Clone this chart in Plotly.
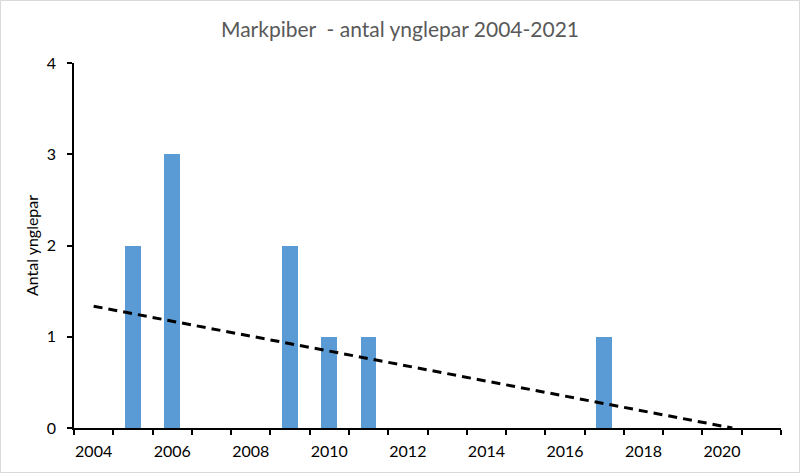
import plotly.graph_objects as go

years = list(range(2004, 2022))
pairs = [0, 2, 3, 0, 0, 2, 1, 1, 0, 0, 0, 0, 0, 1, 0, 0, 0, 0]
tick_years = list(range(2004, 2021, 2))
trend_x = [2004, 2020.26]
trend_y = [1.335, 0]

title_text = "Markpiber\u00a0 - antal ynglepar 2004-2021"
y_title = "Antal ynglepar"

W, H = 800, 473
ml, mr, mt, mb = 74, 19, 63, 45
pw, ph = W - ml - mr, H - mt - mb

fig = go.Figure()
fig.add_trace(go.Bar(x=years, y=pairs, width=0.4, marker=dict(color="#5B9BD5", line=dict(width=0)),
                     showlegend=False))
fig.add_trace(go.Scatter(x=trend_x, y=trend_y, mode="lines",
                         line=dict(color="black", width=3, dash="9px,6px"), showlegend=False))

font = "Lato, 'Open Sans', sans-serif"
fig.update_layout(
    width=W, height=H,
    margin=dict(l=ml, r=mr, t=mt, b=mb, autoexpand=False),
    paper_bgcolor="white", plot_bgcolor="white",
    font=dict(family=font, size=16, color="#000000"),
    title=dict(text=title_text, x=0.5, xref="container", xanchor="center",
               y=1 - 30 / H, yref="container", yanchor="middle",
               font=dict(family=font, size=21, color="#595959")),
    xaxis=dict(range=[2003.5, 2021.5], tickvals=tick_years, ticktext=[str(t) for t in tick_years],
               ticks="", ticklabelstandoff=8, showgrid=False, zeroline=False, showline=True,
               linecolor="black", linewidth=1.5, tickfont=dict(size=16, color="#000000"),
               minor=dict(tick0=2003.5, dtick=1, ticks="outside", ticklen=5, tickcolor="black",
                          tickwidth=1.5, showgrid=False)),
    yaxis=dict(range=[0, 4], tickvals=[0, 1, 2, 3, 4], ticks="outside", ticklen=5, tickcolor="black",
               ticklabelstandoff=8,
               tickwidth=1.5, showgrid=False, zeroline=False, showline=True, linecolor="black",
               linewidth=1.5, tickfont=dict(size=16, color="#000000"),
               title=dict(text=y_title, font=dict(size=16, color="#000000"), standoff=4)),
    bargap=0,
    shapes=[dict(type="rect", xref="paper", yref="paper",
                 x0=(-ml + 0.5) / pw, x1=(W - ml - 0.5) / pw,
                 y0=-(mb - 0.5) / ph, y1=1 + (mt - 0.5) / ph,
                 line=dict(color="#D9D9D9", width=1), fillcolor="rgba(0,0,0,0)", layer="below")],
)

fig.write_html("out.html", config={"displayModeBar": False},
               post_script="document.body.style.margin='0';document.body.style.padding='0';")
